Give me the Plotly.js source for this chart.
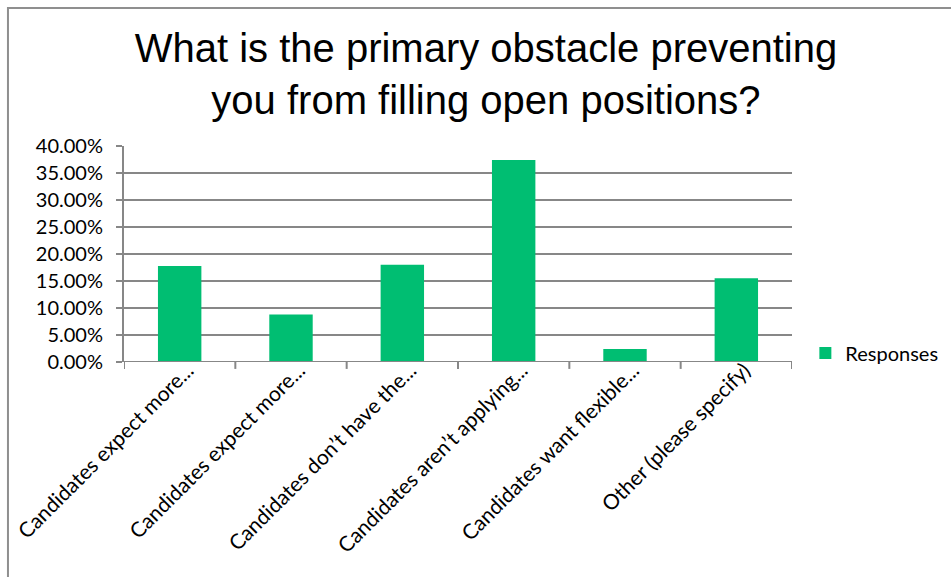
<!DOCTYPE html>
<html>
<head>
<meta charset="utf-8">
<script src="https://cdn.plot.ly/plotly-3.0.1.min.js"></script>
<style>html,body{margin:0;padding:0;background:#fff;}#chart{width:951px;height:577px;}</style>
</head>
<body>
<div id="chart"></div>
<script>
const categories = [
  "Candidates expect more...",
  "Candidates expect more...",
  "Candidates don\u2019t have the...",
  "Candidates aren\u2019t applying...",
  "Candidates want flexible...",
  "Other (please specify)"
];
const responses = [0.178, 0.088, 0.180, 0.374, 0.024, 0.155];
const yTicks = [0, 0.05, 0.10, 0.15, 0.20, 0.25, 0.30, 0.35, 0.40];
const seriesName = "Responses";
const chartTitle = "What is the primary obstacle preventing<br>you from filling open positions?";

// categories repeat, so use index positions with tick labels
const xIdx = categories.map((_, i) => i);

const grid = "#878787";
const tickFontY = {family: "Lato, 'Open Sans', sans-serif", size: 20, color: "#000"};
const tickFontX = {family: "Lato, 'Open Sans', sans-serif", size: 21, color: "#000"};

const trace = {
  type: "bar",
  x: xIdx,
  y: responses,
  name: seriesName,
  marker: {color: "#00BE72", line: {width: 0}},
  showlegend: true,
  hoverinfo: "y"
};

const layout = {
  width: 951, height: 577,
  margin: {l: 124, r: 159, t: 146, b: 215, autoexpand: false},
  paper_bgcolor: "#fff", plot_bgcolor: "#fff",
  title: {
    text: chartTitle,
    font: {family: "'Liberation Sans', Arial, sans-serif", size: 40, color: "#000"},
    x: 0.511, xanchor: "center",
    y: 0.893, yanchor: "top", yref: "container"
  },
  bargap: 0.61,
  showlegend: true,
  legend: {
    x: 1.02, xanchor: "left", y: 0.042, yanchor: "middle",
    font: {family: "Lato, 'Open Sans', sans-serif", size: 20, color: "#000"},
    bgcolor: "rgba(0,0,0,0)"
  },
  xaxis: {
    type: "linear",
    range: [-0.5, 5.5],
    tickmode: "array",
    tickvals: xIdx,
    ticktext: categories,
    tickangle: -45,
    tickfont: tickFontX,
    ticklabelshift: 8,
    ticklabelstandoff: -9,
    showgrid: false,
    zeroline: false,
    showline: false,
    ticks: "",
    fixedrange: true
  },
  yaxis: {
    range: [0, 0.4],
    tickmode: "array",
    tickvals: yTicks,
    tickformat: ".2%",
    tickfont: tickFontY,
    showgrid: true, gridcolor: grid, gridwidth: 2,
    zeroline: false,
    showline: true, linecolor: grid, linewidth: 2,
    ticks: "outside", ticklen: 6, tickwidth: 2, tickcolor: grid,
    ticklabelstandoff: 9,
    fixedrange: true
  },
  shapes: [
    // x-axis baseline
    {type: "line", xref: "paper", yref: "y", x0: 0, x1: 1, y0: 0, y1: 0, line: {color: grid, width: 2}},
    // chart frame (top and left edges visible)
    {type: "rect", xref: "paper", yref: "paper", x0: -0.1737, x1: 1.6, y0: -1.6, y1: 1.6389, line: {color: "#8f8f8f", width: 2}, fillcolor: "rgba(0,0,0,0)", layer: "below"}
  ]
};

// category boundary ticks on the x axis
for (let i = 0; i <= categories.length; i++) {
  layout.shapes.push({type: "line", xref: "x", yref: "paper", x0: i - 0.5, x1: i - 0.5, y0: 0, y1: -0.032, line: {color: grid, width: 2}});
}

Plotly.newPlot("chart", [trace], layout, {displayModeBar: false, staticPlot: true});
</script>
</body>
</html>
